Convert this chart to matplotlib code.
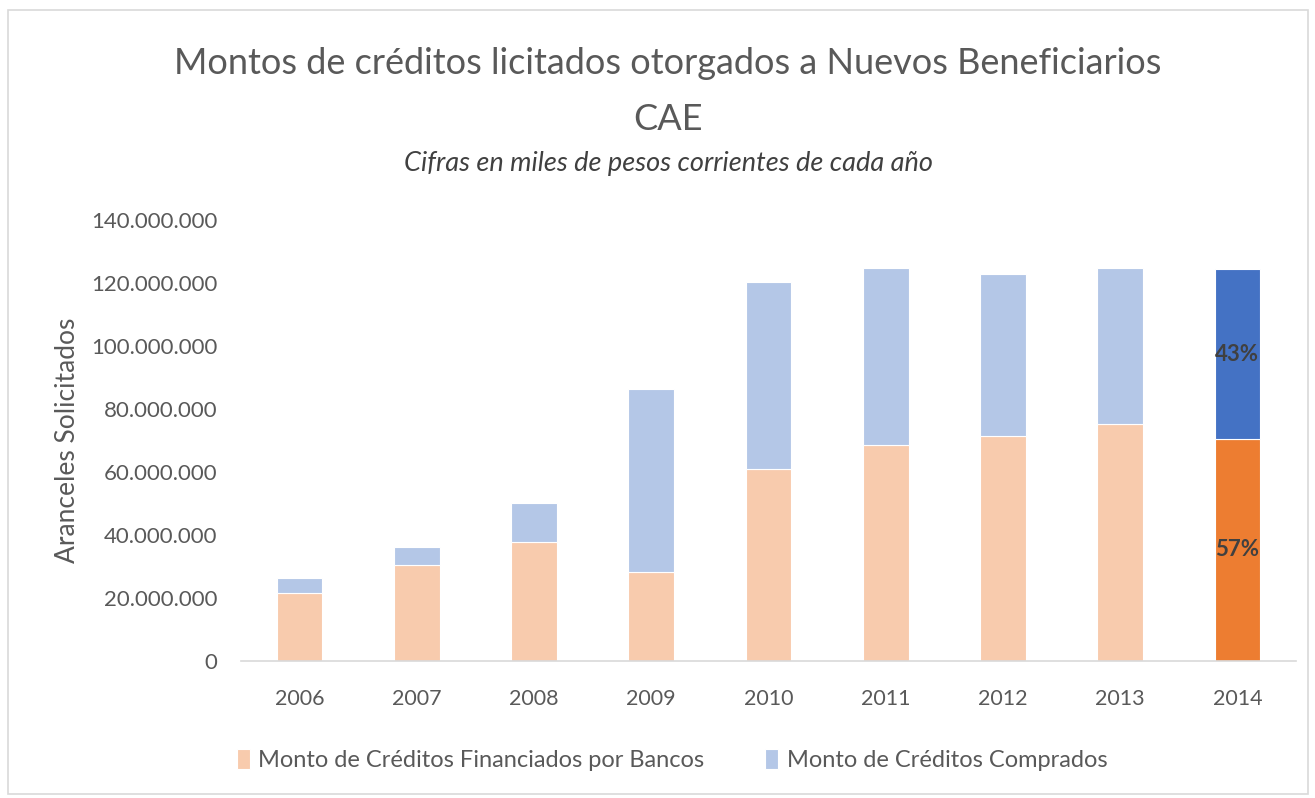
import numpy as np
import matplotlib
matplotlib.use("Agg")
import matplotlib.pyplot as plt
from matplotlib.patches import Rectangle
from matplotlib.ticker import FuncFormatter

# -----------------------------
# Data (miles de pesos)
# -----------------------------
years = ["2006", "2007", "2008", "2009", "2010", "2011", "2012", "2013", "2014"]
bancos = [21.6e6, 30.5e6, 37.8e6, 28.3e6, 61.0e6, 68.6e6, 71.4e6, 75.2e6, 70.5e6]
comprados = [4.7e6, 5.7e6, 12.4e6, 58.0e6, 59.3e6, 56.2e6, 51.5e6, 49.6e6, 53.9e6]
pct_labels = ["57%", "43%"]

plt.rcParams["font.family"] = ["Lato", "DejaVu Sans"]
gray = "#595959"

fig = plt.figure(figsize=(13.15, 7.98), dpi=100)
ax = fig.add_axes([241 / 1315, 1 - 661 / 798, (1296 - 241) / 1315, (661 - 220) / 798])

x = np.arange(len(years))
w = 0.39
c_b = ["#F8CBAD"] * (len(years) - 1) + ["#ED7D31"]
c_c = ["#B4C7E7"] * (len(years) - 1) + ["#4472C4"]

ax.bar(x, bancos, w, color=c_b, edgecolor="white", linewidth=0.8,
       label="Monto de Créditos Financiados por Bancos")
ax.bar(x, comprados, w, bottom=bancos, color=c_c, edgecolor="white", linewidth=0.8,
       label="Monto de Créditos Comprados")

# percentage labels on last bar
last = len(years) - 1
ax.text(x[last], bancos[last] / 2, pct_labels[0], ha="center", va="center",
        fontsize=16, fontweight="bold", color="#404040")
ax.text(x[last], bancos[last] + comprados[last] / 2, pct_labels[1], ha="center", va="center",
        fontsize=16, fontweight="bold", color="#404040")

ax.set_xlim(-0.5, len(years) - 0.5)
ax.set_ylim(0, 140e6)
ax.set_yticks(np.arange(0, 140e6 + 1, 20e6))
ax.yaxis.set_major_formatter(FuncFormatter(lambda v, p: f"{int(v):,}".replace(",", ".")))
ax.set_xticks(x)
ax.set_xticklabels(years)
ax.tick_params(axis="both", length=0, colors=gray)
ax.tick_params(axis="y", labelsize=16, pad=17)
ax.tick_params(axis="x", labelsize=15.5, pad=20)
for s in ["top", "right", "left"]:
    ax.spines[s].set_visible(False)
ax.spines["bottom"].set_color("#d9d9d9")
ax.spines["bottom"].set_linewidth(1.2)

ax.set_ylabel("Aranceles Solicitados", fontsize=19, color=gray, labelpad=8)

# titles
fig.text(668 / 1315, 1 - 64 / 798, "Montos de créditos licitados otorgados a Nuevos Beneficiarios",
         ha="center", va="center", fontsize=26, color=gray)
fig.text(668 / 1315, 1 - 119 / 798, "CAE", ha="center", va="center", fontsize=26, color=gray)
fig.text(668 / 1315, 1 - 163 / 798, "Cifras en miles de pesos corrientes de cada año",
         ha="center", va="center", fontsize=19.5, style="italic", color="#404040")

fig.legend(loc="center", bbox_to_anchor=(672 / 1315, 1 - 760 / 798), ncol=2, frameon=False,
           fontsize=17, labelcolor=gray, handlelength=0.55, handleheight=0.9,
           columnspacing=2.6, handletextpad=0.35)

# chart border
fig.patches.append(Rectangle((8 / 1315, 0.005), 1300 / 1315, 1 - 10 / 798 - 0.005,
                             transform=fig.transFigure, fill=False,
                             edgecolor="#d9d9d9", linewidth=1.2))

fig.savefig("out.png", dpi=100)
